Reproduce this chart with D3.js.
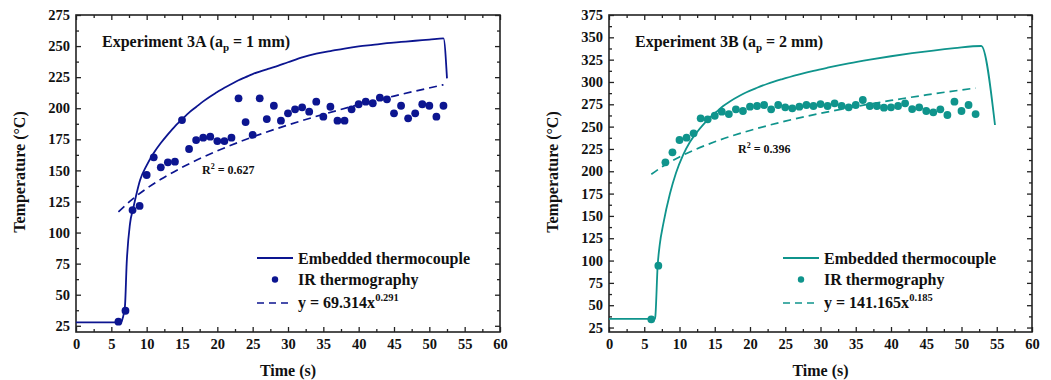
<!DOCTYPE html>
<html>
<head>
<meta charset="utf-8">
<script src="https://cdn.jsdelivr.net/npm/d3@7/dist/d3.min.js"></script>
<style>
  html, body { margin: 0; padding: 0; background: #fff; }
  svg { display: block; }
  text { font-family: "Liberation Serif", "Times New Roman", serif; font-weight: bold; fill: #111; }
</style>
</head>
<body>
<svg id="chart" width="1051" height="380"></svg>
<script>
// ---------- data ----------
const timeTicks = [0, 5, 10, 15, 20, 25, 30, 35, 40, 45, 50, 55, 60];
const leftTempTicks = [25, 50, 75, 100, 125, 150, 175, 200, 225, 250, 275];
const rightTempTicks = [25, 50, 75, 100, 125, 150, 175, 200, 225, 250, 275, 300, 325, 350, 375];

// Experiment 3A
const leftTcTime = [0, 6.37, 6.6, 6.93, 7.17, 7.64, 8.1, 8.6, 9.06, 10, 11, 12, 13, 14, 15, 16, 17, 18, 19, 20, 21, 22, 23, 24, 25, 26, 27, 28, 30, 32, 34, 36, 38, 40, 42, 44, 46, 48, 50, 52, 52.5];
const leftTcTemp = [27.8, 27.8, 31, 41, 75, 107, 119.5, 132, 142, 154, 164, 172, 179, 185.5, 191, 196.5, 201, 205.5, 209.5, 213, 216.5, 219.5, 222.5, 225, 227.5, 229.5, 231.3, 233, 237, 241, 244, 246, 248, 249.7, 251, 252.3, 253.3, 254.3, 255.2, 256.2, 224];
const leftIrTime = [6, 7, 8, 9, 10, 11, 12, 13, 14, 15, 16, 17, 18, 19, 20, 21, 22, 23, 24, 25, 26, 27, 28, 29, 30, 31, 32, 33, 34, 35, 36, 37, 38, 39, 40, 41, 42, 43, 44, 45, 46, 47, 48, 49, 50, 51, 52];
const leftIrTemp = [28.3, 37.1, 118.1, 121.4, 146.3, 160.5, 152.5, 156.5, 157, 190.5, 167.2, 174.4, 176.3, 177.1, 173.6, 173.6, 176.3, 208, 188.9, 178.5, 208, 191.3, 202, 190, 195.9, 199.1, 200.7, 197.2, 205.3, 193.2, 201.2, 190, 190, 199.1, 203.2, 205.3, 204, 208.5, 207.2, 195.9, 202, 191.9, 195.9, 203.2, 202, 193.2, 202];
const leftFitTime = [6, 8, 10, 12, 15, 20, 25, 30, 35, 40, 45, 52];
const leftFitTemp = [116.7, 126.9, 135.5, 142.8, 152.4, 165.7, 176.9, 186.5, 195.1, 202.8, 209.8, 218.9];

// Experiment 3B
const rightTcTime = [0, 6.52, 6.58, 6.9, 7.2, 7.7, 8.65, 9.5, 10.5, 11.5, 12.5, 13.4, 14.3, 15.3, 16.2, 17.2, 18.4, 19.5, 21, 22.5, 24.5, 27, 29, 31, 34, 37, 40, 43, 46, 49, 52.8, 54.75];
const rightTcTemp = [34.6, 34.6, 38, 94, 118, 141, 175, 198, 218, 233, 244, 252.5, 260, 267, 273, 278.5, 284, 288.5, 293.5, 298, 303, 308.5, 312.5, 316, 320.8, 325, 328.8, 332.2, 335.2, 337.8, 340.3, 251.8];
const rightIrTime = [6, 7, 8, 9, 10, 11, 12, 13, 14, 15, 16, 17, 18, 19, 20, 21, 22, 23, 24, 25, 26, 27, 28, 29, 30, 31, 32, 33, 34, 35, 36, 37, 38, 39, 40, 41, 42, 43, 44, 45, 46, 47, 48, 49, 50, 51, 52];
const rightIrTemp = [34.2, 94.3, 210, 221.2, 235, 237.6, 242.5, 259.3, 258.2, 262.2, 266.7, 264.1, 269.4, 267.5, 272.3, 273.1, 274.2, 269.4, 274.2, 271.6, 270.5, 272.3, 274.2, 273.1, 275.3, 273.1, 276.1, 273.1, 271.6, 274.2, 279.8, 273.1, 273.1, 271.2, 271.6, 273.1, 276.1, 269.7, 271.6, 267.5, 266, 269.4, 263, 277.9, 267.5, 274.2, 264.1];
const rightFitTime = [6, 8, 10, 12, 15, 20, 25, 30, 35, 40, 45, 52];
const rightFitTemp = [196.6, 207.4, 216.1, 223.5, 233.0, 245.7, 256.1, 264.9, 272.5, 279.3, 285.5, 293.2];

// ---------- drawing ----------
const svg = d3.select("#chart");
const serif = '"Liberation Serif", "Times New Roman", serif';

function panel(cfg) {
  const g = svg.append("g");
  const x = d3.scaleLinear().domain([0, 60]).range([cfg.left, cfg.right]);
  const y = d3.scaleLinear().domain([20, cfg.ymax]).range([332, 15]);
  const minorX = d3.range(2.5, 60, 5);
  const minorY = d3.range(37.5, cfg.ymax, 25);

  const bx = g.append("g").attr("transform", `translate(0,332)`)
    .call(d3.axisBottom(x).tickValues(timeTicks).tickSize(-5).tickSizeOuter(0).tickPadding(7));
  bx.append("g").call(d3.axisBottom(x).tickValues(minorX).tickSize(-3).tickFormat(""));
  const tx = g.append("g").attr("transform", `translate(0,15)`)
    .call(d3.axisTop(x).tickValues(timeTicks).tickSize(-5).tickFormat(""));
  tx.append("g").call(d3.axisTop(x).tickValues(minorX).tickSize(-3).tickFormat(""));
  const ly = g.append("g").attr("transform", `translate(${cfg.left},0)`)
    .call(d3.axisLeft(y).tickValues(cfg.yticks).tickSize(-5).tickSizeOuter(0).tickPadding(6));
  ly.append("g").call(d3.axisLeft(y).tickValues(minorY).tickSize(-3).tickFormat(""));
  const ry = g.append("g").attr("transform", `translate(${cfg.right},0)`)
    .call(d3.axisRight(y).tickValues(cfg.yticks).tickSize(-5).tickFormat(""));
  ry.append("g").call(d3.axisRight(y).tickValues(minorY).tickSize(-3).tickFormat(""));

  g.selectAll(".domain").remove();
  g.selectAll(".tick line").attr("stroke", "#222").attr("stroke-width", 1.3);
  g.selectAll(".tick text").attr("font-family", serif).attr("font-weight", "bold")
    .attr("font-size", 14.5).attr("fill", "#111");

  g.append("rect").attr("x", cfg.left).attr("y", 15)
    .attr("width", cfg.right - cfg.left).attr("height", 317)
    .attr("fill", "none").attr("stroke", "#222").attr("stroke-width", 1.6);

  const col = cfg.color;
  const line = d3.line().x(d => x(d[0])).y(d => y(d[1])).curve(d3.curveMonotoneX);

  g.append("path").datum(d3.zip(cfg.fitT, cfg.fitV)).attr("d", line)
    .attr("fill", "none").attr("stroke", col).attr("stroke-width", 1.7).attr("stroke-dasharray", "8,5");
  g.append("path").datum(d3.zip(cfg.tcT, cfg.tcV)).attr("d", line)
    .attr("fill", "none").attr("stroke", col).attr("stroke-width", 1.8);
  g.selectAll("circle.ir").data(d3.zip(cfg.irT, cfg.irV)).enter().append("circle")
    .attr("class", "ir").attr("cx", d => x(d[0])).attr("cy", d => y(d[1])).attr("r", 3.9).attr("fill", col);

  const tt = g.append("text").attr("x", cfg.left + 26).attr("y", 47).attr("font-size", 16);
  tt.append("tspan").text(cfg.title);
  tt.append("tspan").attr("font-size", 11).attr("dy", 4).text("p");
  tt.append("tspan").attr("dy", -4).text(cfg.titleEnd);

  const r2 = g.append("text").attr("x", cfg.r2x).attr("y", cfg.r2y).attr("font-size", 12);
  r2.append("tspan").text("R");
  r2.append("tspan").attr("font-size", 8).attr("dy", -5).text("2");
  r2.append("tspan").attr("dy", 5).text(" = " + cfg.r2);

  const lx0 = cfg.legX, lx1 = cfg.legX + 36, txx = cfg.legX + 41;
  g.append("line").attr("x1", lx0).attr("x2", lx1).attr("y1", 258).attr("y2", 258)
    .attr("stroke", col).attr("stroke-width", 1.8);
  g.append("text").attr("x", txx).attr("y", 263.5).attr("font-size", 16).text("Embedded thermocouple");
  g.append("circle").attr("cx", (lx0 + lx1) / 2).attr("cy", 279.5).attr("r", 3.2).attr("fill", col);
  g.append("text").attr("x", txx).attr("y", 285).attr("font-size", 16).text("IR thermography");
  g.append("line").attr("x1", lx0).attr("x2", lx1).attr("y1", 303).attr("y2", 303)
    .attr("stroke", col).attr("stroke-width", 1.7).attr("stroke-dasharray", "7,5");
  const ft = g.append("text").attr("x", txx).attr("y", 308).attr("font-size", 16);
  ft.append("tspan").text(cfg.fitA);
  ft.append("tspan").attr("font-size", 10.5).attr("dy", -7).text(cfg.fitB);

  g.append("text").attr("x", (cfg.left + cfg.right) / 2).attr("y", 376)
    .attr("text-anchor", "middle").attr("font-size", 16).text("Time (s)");
  g.append("text").attr("transform", `translate(${cfg.ylabX},172) rotate(-90)`)
    .attr("text-anchor", "middle").attr("font-size", 16).text("Temperature (\u00B0C)");
}

panel({
  left: 76, right: 500, ymax: 275, yticks: leftTempTicks, color: "#0c1590",
  tcT: leftTcTime, tcV: leftTcTemp, irT: leftIrTime, irV: leftIrTemp, fitT: leftFitTime, fitV: leftFitTemp,
  title: "Experiment 3A (a", titleEnd: " = 1 mm)", r2: "0.627", r2x: 202, r2y: 174,
  legX: 257, fitA: "y = 69.314x", fitB: "0.291", ylabX: 25
});
panel({
  left: 609, right: 1032, ymax: 375, yticks: rightTempTicks, color: "#0f948c",
  tcT: rightTcTime, tcV: rightTcTemp, irT: rightIrTime, irV: rightIrTemp, fitT: rightFitTime, fitV: rightFitTemp,
  title: "Experiment 3B (a", titleEnd: " = 2 mm)", r2: "0.396", r2x: 738, r2y: 153,
  legX: 783, fitA: "y = 141.165x", fitB: "0.185", ylabX: 558
});
</script>
</body>
</html>
